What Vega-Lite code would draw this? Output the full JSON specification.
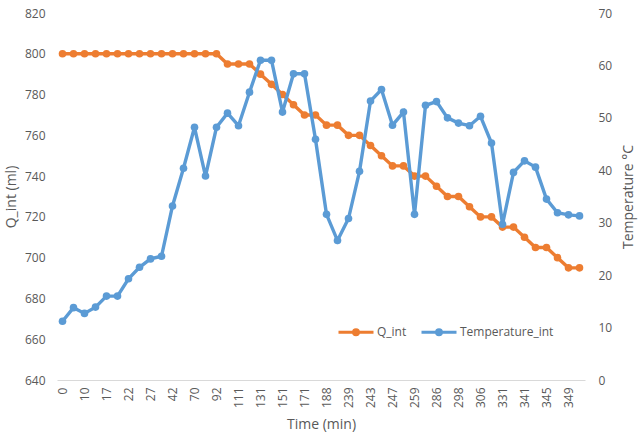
{
  "$schema": "https://vega.github.io/schema/vega-lite/v6.json",
  "autosize": "none",
  "width": 528,
  "height": 367,
  "padding": {"left": 57, "top": 13, "right": 55, "bottom": 60},
  "config": {
    "font": "Open Sans",
    "view": {"stroke": null},
    "axis": {"labelColor": "#595959", "titleColor": "#595959", "labelFont": "Open Sans", "titleFont": "Open Sans", "labelFontSize": 12, "titleFontSize": 14, "titleFontWeight": "normal", "ticks": false, "grid": false},
    "legend": {"labelFont": "Open Sans", "labelFontSize": 12, "labelColor": "#595959"}
  },
  "data": {
    "values": [
      {"time": 0, "Q_int": 800, "Temperature_int": 11.2},
      {"time": 5, "Q_int": 800, "Temperature_int": 13.8},
      {"time": 10, "Q_int": 800, "Temperature_int": 12.7},
      {"time": 14, "Q_int": 800, "Temperature_int": 13.9},
      {"time": 17, "Q_int": 800, "Temperature_int": 16.0},
      {"time": 20, "Q_int": 800, "Temperature_int": 16.0},
      {"time": 22, "Q_int": 800, "Temperature_int": 19.3},
      {"time": 25, "Q_int": 800, "Temperature_int": 21.5},
      {"time": 27, "Q_int": 800, "Temperature_int": 23.1},
      {"time": 35, "Q_int": 800, "Temperature_int": 23.6},
      {"time": 42, "Q_int": 800, "Temperature_int": 33.2},
      {"time": 56, "Q_int": 800, "Temperature_int": 40.4},
      {"time": 70, "Q_int": 800, "Temperature_int": 48.2},
      {"time": 80, "Q_int": 800, "Temperature_int": 38.9},
      {"time": 92, "Q_int": 800, "Temperature_int": 48.2},
      {"time": 101, "Q_int": 795, "Temperature_int": 50.9},
      {"time": 111, "Q_int": 795, "Temperature_int": 48.5},
      {"time": 121, "Q_int": 795, "Temperature_int": 54.9},
      {"time": 131, "Q_int": 790, "Temperature_int": 61.0},
      {"time": 141, "Q_int": 785, "Temperature_int": 61.0},
      {"time": 151, "Q_int": 780, "Temperature_int": 51.1},
      {"time": 161, "Q_int": 775, "Temperature_int": 58.4},
      {"time": 171, "Q_int": 770, "Temperature_int": 58.4},
      {"time": 180, "Q_int": 770, "Temperature_int": 45.9},
      {"time": 188, "Q_int": 765, "Temperature_int": 31.6},
      {"time": 210, "Q_int": 765, "Temperature_int": 26.6},
      {"time": 239, "Q_int": 760, "Temperature_int": 30.8},
      {"time": 241, "Q_int": 760, "Temperature_int": 39.8},
      {"time": 243, "Q_int": 755, "Temperature_int": 53.2},
      {"time": 245, "Q_int": 750, "Temperature_int": 55.4},
      {"time": 247, "Q_int": 745, "Temperature_int": 48.6},
      {"time": 253, "Q_int": 745, "Temperature_int": 51.1},
      {"time": 259, "Q_int": 740, "Temperature_int": 31.6},
      {"time": 272, "Q_int": 740, "Temperature_int": 52.4},
      {"time": 286, "Q_int": 735, "Temperature_int": 53.1},
      {"time": 292, "Q_int": 730, "Temperature_int": 50.0},
      {"time": 298, "Q_int": 730, "Temperature_int": 49.0},
      {"time": 302, "Q_int": 725, "Temperature_int": 48.5},
      {"time": 306, "Q_int": 720, "Temperature_int": 50.3},
      {"time": 318, "Q_int": 720, "Temperature_int": 45.2},
      {"time": 331, "Q_int": 715, "Temperature_int": 29.7},
      {"time": 336, "Q_int": 715, "Temperature_int": 39.6},
      {"time": 341, "Q_int": 710, "Temperature_int": 41.8},
      {"time": 343, "Q_int": 705, "Temperature_int": 40.6},
      {"time": 345, "Q_int": 705, "Temperature_int": 34.5},
      {"time": 347, "Q_int": 700, "Temperature_int": 31.9},
      {"time": 349, "Q_int": 695, "Temperature_int": 31.5},
      {"time": 353, "Q_int": 695, "Temperature_int": 31.3}
    ]
  },
  "encoding": {
    "x": {
      "field": "time",
      "type": "ordinal",
      "scale": {"type": "point", "padding": 0.5},
      "axis": {
        "values": [0, 10, 17, 22, 27, 42, 70, 92, 111, 131, 151, 171, 188, 239, 243, 247, 259, 286, 298, 306, 331, 341, 345, 349],
        "labelAngle": -90,
        "labelPadding": 7,
        "domainColor": "#D9D9D9",
        "domainWidth": 1,
        "title": "Time (min)",
        "titlePadding": 10
      }
    }
  },
  "layer": [
    {
      "mark": {"type": "line", "strokeWidth": 3.4, "point": {"filled": true, "size": 58}},
      "encoding": {
        "y": {
          "field": "Q_int",
          "type": "quantitative",
          "scale": {"domain": [640, 820], "nice": false, "zero": false},
          "axis": {"orient": "left", "values": [640, 660, 680, 700, 720, 740, 760, 780, 800, 820], "domain": false, "labelPadding": 12, "title": "Q_int (ml)", "titlePadding": 6}
        },
        "color": {
          "datum": "Q_int",
          "type": "nominal",
          "scale": {"domain": ["Q_int", "Temperature_int"], "range": ["#ED7D31", "#5B9BD5"]},
          "legend": {
            "orient": "none",
            "legendX": 280,
            "legendY": 300,
            "direction": "horizontal",
            "title": null,
            "symbolType": "M-1,0L1,0M0.14,0A0.14,0.14,0,1,1,-0.14,0A0.14,0.14,0,1,1,0.14,0",
            "symbolSize": 1225,
            "symbolStrokeWidth": 3,
            "labelOffset": 2,
            "columnPadding": 8
          }
        }
      }
    },
    {
      "mark": {"type": "line", "strokeWidth": 3.4, "point": {"filled": true, "size": 58}},
      "encoding": {
        "y": {
          "field": "Temperature_int",
          "type": "quantitative",
          "scale": {"domain": [0, 70], "nice": false},
          "axis": {"orient": "right", "values": [0, 10, 20, 30, 40, 50, 60, 70], "domain": false, "labelPadding": 13, "title": "Temperature °C", "titleAngle": 270, "titleBaseline": "bottom", "titlePadding": 24}
        },
        "color": {"datum": "Temperature_int", "type": "nominal"}
      }
    }
  ],
  "resolve": {"scale": {"y": "independent"}}
}
